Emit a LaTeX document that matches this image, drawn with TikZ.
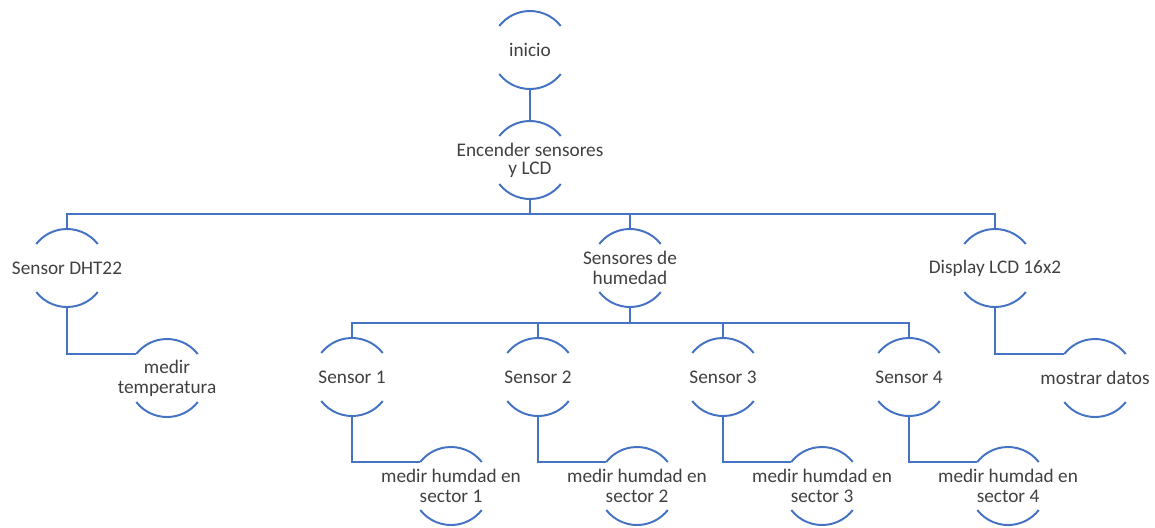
\documentclass[tikz,border=0pt]{standalone}
\usepackage{fontspec}
\setmainfont{Carlito}
\usepackage{tikz}
\definecolor{arcblue}{HTML}{4472C4}
\definecolor{txtgray}{HTML}{404040}
\tikzset{
  unit/.style={circle,minimum size=1.95cm,inner sep=0pt,outer sep=0pt},
  txt/.style={align=center,text=txtgray,font=\fontsize{13.7}{14.3}\selectfont},
  arcline/.style={draw=arcblue,line width=1.4pt},
  link/.style={draw=arcblue,line width=1.4pt}
}
\begin{document}
\begin{tikzpicture}[x=0.025cm,y=0.025cm] % hierarchy with arcs
        \useasboundingbox (0,0) rectangle (1155,-527);
        \node[unit,label={[txt]center:inicio}] (inicio) at (530,-50) {};
        \node[unit,label={[txt]center:Encender sensores\\[-1.5pt]y LCD}] (encender) at (530,-160) {};
        \node[unit,label={[txt]center:Sensor DHT22}] (dht) at (67,-268) {};
        \node[unit,label={[txt]center:Sensores de\\humedad}] (humedad) at (630,-268) {};
        \node[unit,label={[txt]center:Display LCD 16x2}] (display) at (995,-268) {};
        \node[unit,label={[txt]center:medir\\temperatura}] (temp) at (167,-378) {};
        \node[unit,label={[txt]center:mostrar datos}] (mostrar) at (1095,-378) {};
        \node[unit,label={[txt]center:Sensor 1}] (s1) at (352,-377) {};
        \node[unit,label={[txt]center:Sensor 2}] (s2) at (538,-377) {};
        \node[unit,label={[txt]center:Sensor 3}] (s3) at (723,-377) {};
        \node[unit,label={[txt]center:Sensor 4}] (s4) at (909,-377) {};
        \node[unit,label={[txt]center:medir humdad en\\sector 1}] (m1) at (451,-486) {};
        \node[unit,label={[txt]center:medir humdad en\\sector 2}] (m2) at (637,-486) {};
        \node[unit,label={[txt]center:medir humdad en\\sector 3}] (m3) at (822,-486) {};
        \node[unit,label={[txt]center:medir humdad en\\sector 4}] (m4) at (1008,-486) {};
        % top and bottom arcs of every unit
        \foreach \n in {inicio,encender,dht,humedad,display,temp,mostrar,s1,s2,s3,s4,m1,m2,m3,m4}
          \draw[arcline] (\n.38) arc[start angle=38,end angle=142,radius=0.975cm]
                         (\n.218) arc[start angle=218,end angle=322,radius=0.975cm];
        % buses
        \coordinate (bus) at (0,-214);
        \coordinate (subbus) at (0,-323);
        \draw[link] (inicio.south) -- (encender.north);
        \draw[link] (encender.south) -- (encender.south |- bus);
        \draw[link] (dht.north) |- (display.north |- bus) -- (display.north);
        \draw[link] (humedad.north) -- (humedad.north |- bus);
        \draw[link] (humedad.south) -- (humedad.south |- subbus);
        \draw[link] (s1.north) |- (s4.north |- subbus) -- (s4.north);
        \foreach \s in {s2,s3}
          \draw[link] (\s.north) -- (\s.north |- subbus);
        % children hang from the left end of their top arc
        \foreach \p/\c in {dht/temp,display/mostrar,s1/m1,s2/m2,s3/m3,s4/m4}
          \draw[link] (\p.south) |- (\c.142);
\end{tikzpicture}
\end{document}
